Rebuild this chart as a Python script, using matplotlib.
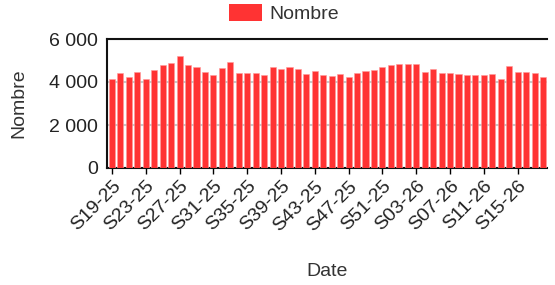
import numpy as np
import matplotlib
matplotlib.use("Agg")
import matplotlib.pyplot as plt
from matplotlib.patches import Patch
from matplotlib.ticker import FuncFormatter

plt.rcParams['font.family'] = ['Liberation Sans', 'DejaVu Sans']

# semaines S19-25 .. S52-25 puis S01-26 .. S18-26
weeks = [f"S{w:02d}-25" for w in range(19, 53)] + [f"S{w:02d}-26" for w in range(1, 19)]
nombre = [4120, 4400, 4220, 4460, 4120, 4540, 4770, 4890, 5190, 4800,
          4710, 4450, 4310, 4630, 4950, 4430, 4400, 4400, 4310, 4680,
          4620, 4680, 4590, 4370, 4490, 4320, 4260, 4350, 4250, 4420,
          4510, 4540, 4690, 4790, 4850, 4820, 4830, 4460, 4620, 4420,
          4400, 4390, 4320, 4320, 4310, 4350, 4150, 4750, 4460, 4450,
          4400, 4230]

bar_color = '#ff3333'
text_col = '#222222'
fs = 14

fig = plt.figure(figsize=(5.55, 2.85), dpi=100)
ax = fig.add_axes([107 / 555, 117 / 285, 440 / 555, 129 / 285])

x = np.arange(len(weeks))
ax.bar(x, nombre, width=0.72, color=bar_color, edgecolor='#ff9a9a', linewidth=0.4, zorder=3)

ax.set_xlim(-0.59, len(weeks) - 0.53)
ax.set_ylim(0, 6000)
ax.set_yticks([0, 2000, 4000, 6000])
ax.yaxis.set_major_formatter(FuncFormatter(lambda v, p: f"{int(v):,}".replace(",", " ")))
ax.grid(axis='y', color='#c8c8c8', linewidth=1.5, zorder=0)

ax.set_xticks(x[::4])
ax.set_xticklabels(weeks[::4], rotation=45, ha='right', rotation_mode='anchor')

ax.tick_params(axis='y', length=0, pad=6.5, labelsize=fs, labelcolor=text_col)
ax.tick_params(axis='x', length=4, width=1, pad=3, labelsize=fs, labelcolor=text_col)

for s in ['left', 'top', 'bottom']:
    ax.spines[s].set_color('#111111')
    ax.spines[s].set_linewidth(1.5)
ax.spines['right'].set_visible(False)

ax.set_ylabel("Nombre", fontsize=fs, color='#333333')
ax.yaxis.set_label_coords(-0.18, 0.5)
ax.set_xlabel("Date", fontsize=fs, color='#333333')
ax.xaxis.set_label_coords(0.5, -0.736)

handles = [Patch(facecolor=bar_color, edgecolor='none', label='Nombre')]
fig.legend(handles=handles, loc='upper center', bbox_to_anchor=(0.512, 1.02),
           frameon=False, fontsize=fs, handlelength=1.7, handleheight=1.0,
           handletextpad=0.4, labelcolor='#333333', borderaxespad=0.1)

fig.savefig("out.png", dpi=100)
